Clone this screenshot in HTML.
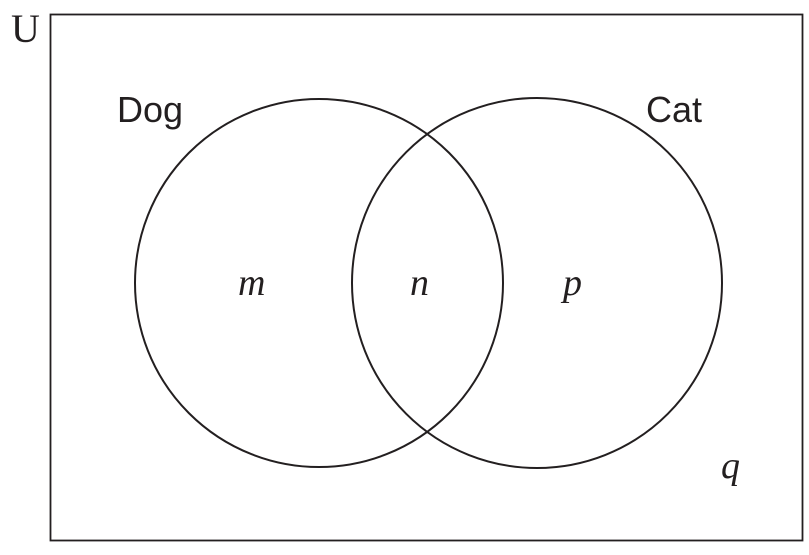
<!DOCTYPE html>
<html><head><meta charset="utf-8"><style>html,body{margin:0;padding:0;background:#fff}</style></head>
<body>
<svg width="809" height="550" viewBox="0 0 809 550" xmlns="http://www.w3.org/2000/svg">
<rect x="50.5" y="14.5" width="752" height="526" fill="none" stroke="#231f20" stroke-width="1.8"/>
<circle cx="319" cy="283" r="184" fill="none" stroke="#231f20" stroke-width="2"/>
<circle cx="537" cy="283" r="185" fill="none" stroke="#231f20" stroke-width="2"/>
<text x="11" y="42" font-family="Liberation Serif, serif" font-size="40" fill="#231f20">U</text>
<text x="117" y="122" font-family="Liberation Sans, sans-serif" font-size="36" fill="#231f20">Dog</text>
<text x="646" y="122" font-family="Liberation Sans, sans-serif" font-size="36" fill="#231f20">Cat</text>
<text x="238" y="295" font-family="Liberation Serif, serif" font-style="italic" font-size="38" fill="#231f20">m</text>
<text x="410" y="295" font-family="Liberation Serif, serif" font-style="italic" font-size="38" fill="#231f20">n</text>
<text x="563" y="295" font-family="Liberation Serif, serif" font-style="italic" font-size="38" fill="#231f20">p</text>
<text x="721" y="478" font-family="Liberation Serif, serif" font-style="italic" font-size="38" fill="#231f20">q</text>
</svg>
</body></html>
